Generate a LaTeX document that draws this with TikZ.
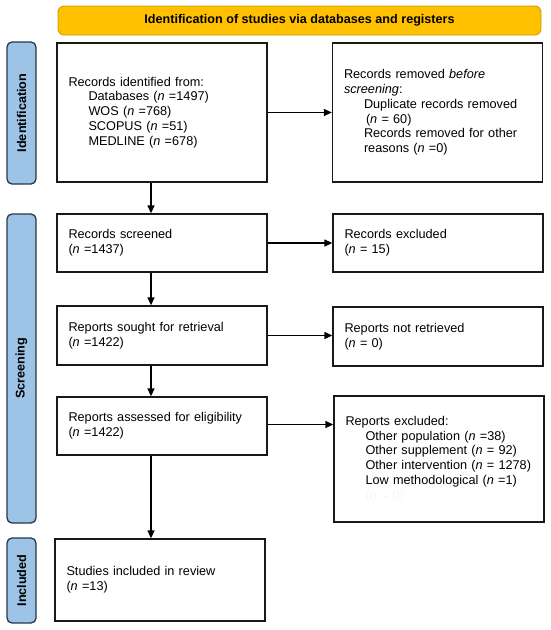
\documentclass[tikz,border=0pt]{standalone}
\usepackage{fontspec}
\setmainfont{Liberation Sans}
\usetikzlibrary{arrows.meta}
\definecolor{bannerfill}{HTML}{FFC000}
\definecolor{bannerdraw}{HTML}{C89B00}
\definecolor{sidefill}{HTML}{9DC3E6}
\definecolor{sidedraw}{HTML}{26384A}
\definecolor{ghost}{HTML}{EEF7FA}
\newcommand{\ind}{\hspace*{20pt}}
\begin{document}
\begin{tikzpicture}[x=1pt,y=-1pt,
  box/.style={draw=black!90, line width=1.3pt, rectangle, inner xsep=11.5pt, inner ysep=0pt,
    align=left, text width=187pt, font=\fontsize{12.7}{14.8}\selectfont},
  side/.style={draw=sidedraw, fill=sidefill, line width=1.3pt, rounded corners=5pt, rotate=90,
    minimum height=29pt, inner sep=0pt, font=\bfseries\fontsize{12.6}{14}\selectfont},
  banner/.style={draw=bannerdraw, fill=bannerfill, line width=0.8pt, rounded corners=6pt,
    minimum width=483pt, minimum height=29pt, inner sep=0pt, font=\bfseries\fontsize{12.6}{14}\selectfont},
  arr/.style={draw=black, line width=1.3pt, -{Triangle[length=8pt,width=7pt]}}
]
\useasboundingbox (0,0) rectangle (550,630);

\node[banner] (banner) at (299.5,20.5) {Identification of studies via databases and registers};

\node[side, minimum width=142pt] (lident) at (21.5,113) {Identification};
\node[side, minimum width=309pt] (lscreen) at (21.5,368.5) {Screening};
\node[side, minimum width=85pt] (lincl) at (21.5,580.5) {Included};

\node[box, minimum height=139pt] (b1) at (162,112.5) {Records identified from:\\
\ind Databases (\textit{n} =1497)\\
\ind WOS (\textit{n} =768)\\
\ind SCOPUS (\textit{n} =51)\\
\ind MEDLINE (\textit{n} =678)};

\node[box, minimum height=139pt] (b2) at (437.5,112.5) {Records removed \textit{before}\\
\textit{screening}:\\
\ind Duplicate records removed\\
\hspace*{22pt}(\textit{n} = 60)\\
\ind Records removed for other\\
\ind reasons (\textit{n} =0)};

\node[box, minimum height=58pt] (b3) at (162,243) {Records screened\\(\textit{n} =1437)};
\node[box, minimum height=58pt] (b4) at (438,243) {Records excluded\\(\textit{n} = 15)};

\node[box, minimum height=59pt] (b5) at (162,335.5) {Reports sought for retrieval\\(\textit{n} =1422)};
\node[box, minimum height=59pt] (b6) at (438,336.5) {Reports not retrieved\\(\textit{n} = 0)};

\node[box, minimum height=58pt] (b7) at (162,426) {Reports assessed for eligibility\\(\textit{n} =1422)};
\node[box, minimum height=126pt] (b8) at (439,459) {Reports excluded:\\
\ind Other population (\textit{n} =38)\\
\ind Other supplement (\textit{n} = 92)\\
\ind Other intervention (\textit{n} = 1278)\\
\ind Low methodological (\textit{n} =1)\\
\ind\textcolor{ghost}{(\textit{n} = 0)}};

\node[box, minimum height=82pt] (b9) at (160,580) {Studies included in review\\(\textit{n} =13)};

\coordinate (vx) at (151,0);

\draw[arr] (b1.east) -- (b2.west);
\draw[arr] (b1.south -| vx) -- (b3.north -| vx);
\draw[arr] (b3.east) -- (b4.west);
\draw[arr] (b3.south -| vx) -- (b5.north -| vx);
\draw[arr] (b5.east) -- (b5.east -| b6.west);
\draw[arr] (b5.south -| vx) -- (b7.north -| vx);
\draw[arr] ([yshift=1.5pt]b7.east) -- ([yshift=1.5pt]b7.east -| b8.west);
\draw[arr] (b7.south -| vx) -- (b9.north -| vx);
\end{tikzpicture}
\end{document}
